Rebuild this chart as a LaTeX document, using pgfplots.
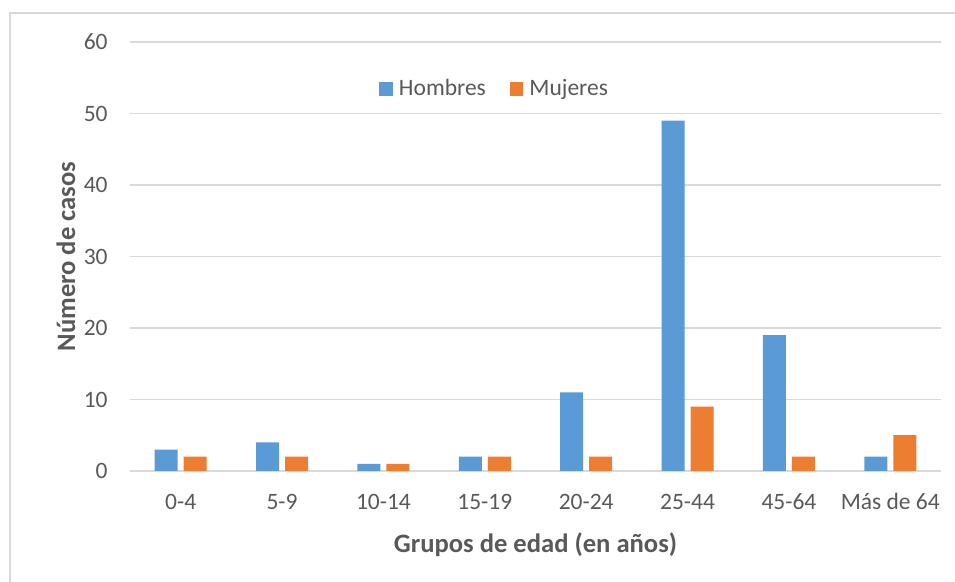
\documentclass[border=0pt]{standalone}
\usepackage{fontspec}
\setmainfont{Carlito}
\usepackage{pgfplots}
\pgfplotsset{compat=1.18}
\definecolor{hblue}{RGB}{91,155,213}
\definecolor{morange}{RGB}{237,125,49}
\definecolor{txt}{RGB}{89,89,89}
\definecolor{gridc}{RGB}{217,217,217}
\begin{document}
\begin{tikzpicture}
\path[use as bounding box] (0,0) rectangle (477.5pt,291pt);
\draw[gridc, line width=0.75pt] (5pt,0) -- (5pt,284.5pt) -- (477.5pt,284.5pt);
\begin{axis}[
  at={(65pt,55.5pt)}, anchor=south west,
  scale only axis, width=405.5pt, height=214.5pt,
  ybar=3pt, bar width=11.5pt,
  xmin=-0.5, xmax=7.5, ymin=0, ymax=60,
  xtick={0,...,7},
  xticklabels={0-4,5-9,10-14,15-19,20-24,25-44,45-64,Más de 64},
  ytick={0,10,...,60},
  axis x line*=bottom, axis y line*=left,
  x axis line style={gridc, line width=0.75pt, -},
  y axis line style={draw=none},
  major tick length=0pt,
  ymajorgrids, grid style={gridc, line width=0.75pt},
  /pgf/number format/assume math mode=true,
  ticklabel style={font=\fontsize{11.75}{14}\selectfont, text=txt},
  yticklabel style={anchor=east, inner sep=0pt, xshift=-11pt},
  xticklabel style={anchor=base, inner sep=0pt, yshift=-19.5pt},
  clip=false,
  legend style={at={(0.307,0.891)}, anchor=west, draw=none, fill=none,
    inner sep=0pt, legend columns=2,
    font=\fontsize{11.75}{14}\selectfont, text=txt,
    nodes={inner sep=3pt},
    /tikz/every even column/.append style={column sep=9pt}},
]
\addplot[fill=hblue, draw=none,
  legend image code/.code={\fill[hblue] (0pt,-3.4pt) rectangle (6.8pt,3.4pt);}]
  coordinates {(0,3) (1,4) (2,1) (3,2) (4,11) (5,49) (6,19) (7,2)};
\addlegendentry{Hombres}
\addplot[fill=morange, draw=none,
  legend image code/.code={\fill[morange] (0pt,-3.4pt) rectangle (6.8pt,3.4pt);}]
  coordinates {(0,2) (1,2) (2,1) (3,2) (4,2) (5,9) (6,2) (7,5)};
\addlegendentry{Mujeres}
\node[rotate=90, anchor=base, inner sep=0pt, text=txt,
  font=\bfseries\fontsize{13.3}{16}\selectfont]
  at (axis description cs:-0.0678,0.5) {Número de casos};
\node[anchor=base, inner sep=0pt, text=txt,
  font=\bfseries\fontsize{13.3}{16}\selectfont]
  at (axis description cs:0.5,-0.1911) {Grupos de edad (en años)};
\end{axis}
\end{tikzpicture}
\end{document}
